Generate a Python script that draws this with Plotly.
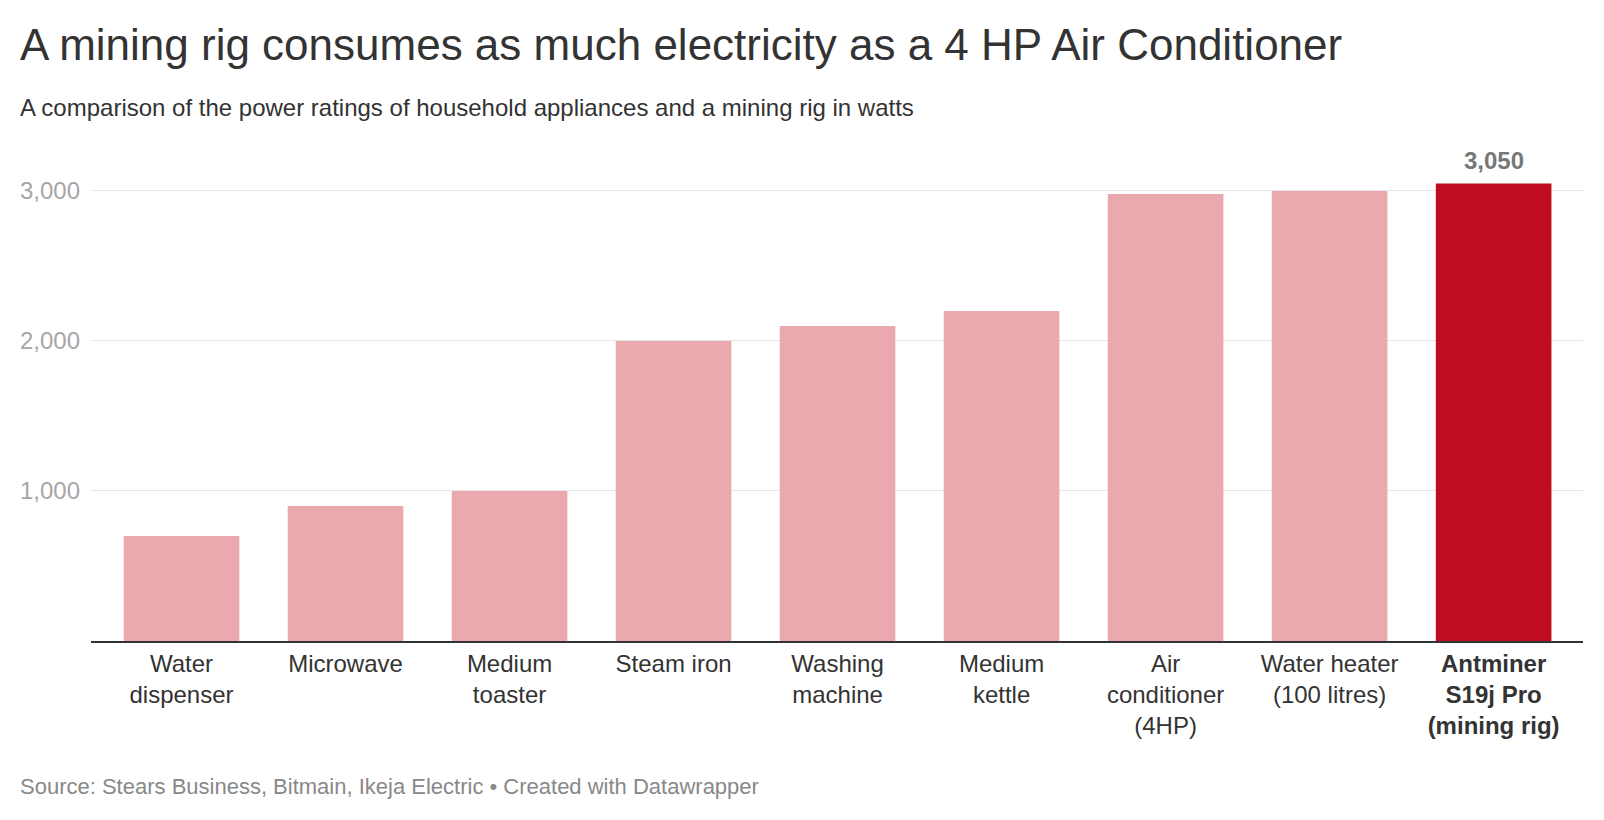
import plotly.graph_objects as go

categories = ["Water<br>dispenser", "Microwave", "Medium<br>toaster", "Steam iron",
              "Washing<br>machine", "Medium<br>kettle", "Air<br>conditioner<br>(4HP)",
              "Water heater<br>(100 litres)", "<b>Antminer<br>S19j Pro<br>(mining rig)</b>"]
watts = [700, 900, 1000, 2000, 2100, 2200, 2980, 3000, 3050]
value_labels = ["", "", "", "", "", "", "", "", "3,050"]
highlight = [False, False, False, False, False, False, False, False, True]
y_ticks = [1000, 2000, 3000]
y_tick_labels = ["1,000", "2,000", "3,000"]

# page body has an 8px default margin, so the figure is 16px smaller than the window
W, H = 1588, 804
L, R, T, B = 83, 13, 152, 171
pw, ph = W - L - R, H - T - B
px_per_unit = 0.15003

def px(x):
    return (x - L) / pw

def py(y):
    return (H - B - y) / ph

colors = ["#bf0c1e" if h else "#e9a9ae" for h in highlight]
font = "Liberation Sans, Arial, sans-serif"

fig = go.Figure()
fig.add_trace(go.Bar(
    x=list(range(len(categories))), y=watts,
    marker=dict(color=colors, line=dict(width=0)),
    cliponaxis=False, hoverinfo="skip",
))

annotations = [
    dict(text="A mining rig consumes as much electricity as a 4 HP Air Conditioner",
         xref="paper", yref="paper", x=px(10), y=py(37), xanchor="left", yanchor="middle",
         showarrow=False, font=dict(size=44, color="#333333", family=font)),
    dict(text="A comparison of the power ratings of household appliances and a mining rig in watts",
         xref="paper", yref="paper", x=px(10), y=py(99), xanchor="left", yanchor="middle",
         showarrow=False, font=dict(size=24, color="#333333", family=font)),
    dict(text="Source: Stears Business, Bitmain, Ikeja Electric • Created with Datawrapper",
         xref="paper", yref="paper", x=px(10), y=py(778), xanchor="left", yanchor="middle",
         showarrow=False, font=dict(size=22, color="#888888", family=font)),
]
for i, (lab, v) in enumerate(zip(value_labels, watts)):
    if lab:
        annotations.append(dict(
            text=f"<b>{lab}</b>", x=i, y=v, xref="x", yref="y", xanchor="center",
            yanchor="middle", yshift=23, showarrow=False,
            font=dict(size=24, color="#777777", family=font)))

fig.update_layout(
    width=W, height=H,
    margin=dict(l=L, r=R, t=T, b=B, autoexpand=False),
    plot_bgcolor="white", paper_bgcolor="white",
    bargap=0.295, showlegend=False,
    font=dict(family=font, color="#333333"),
    xaxis=dict(
        tickmode="array", tickvals=list(range(len(categories))), ticktext=categories,
        range=[-0.552, 8.545], showgrid=False, zeroline=False,
        showline=True, linecolor="#333333", linewidth=2, automargin=False,
        ticks="", tickfont=dict(size=24, color="#333333", family=font),
    ),
    yaxis=dict(
        range=[0, (H - B - T) / px_per_unit], tickmode="array", tickvals=y_ticks,
        ticktext=y_tick_labels, showgrid=True, gridcolor="#e5e5e5", gridwidth=1.3,
        zeroline=False, showline=False, ticks="", automargin=False,
        tickfont=dict(size=24, color="#a6a6a6", family=font),
        ticklabelstandoff=10,
    ),
    annotations=annotations,
)

fig.write_html("out.html")
